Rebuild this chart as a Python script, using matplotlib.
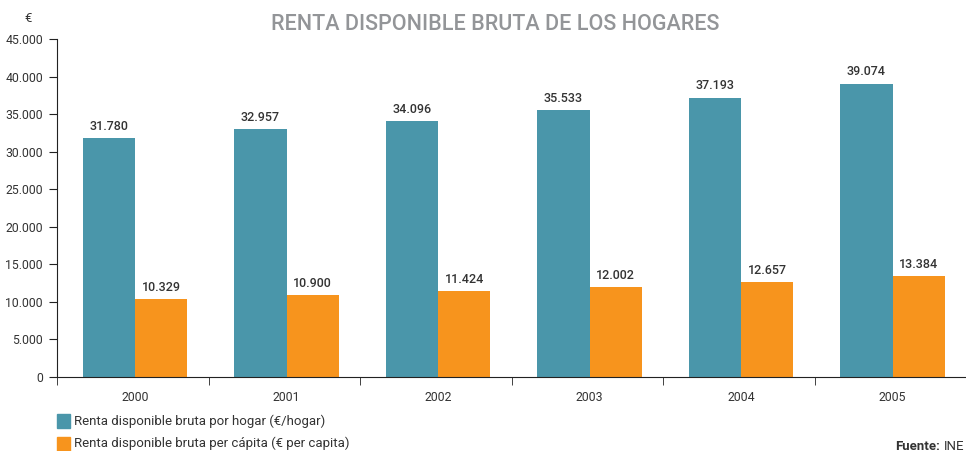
import numpy as np
import matplotlib
matplotlib.use('Agg')
import matplotlib.pyplot as plt
from matplotlib.patches import Rectangle

plt.rcParams['font.family'] = ['Roboto', 'DejaVu Sans']

# data
years = ['2000', '2001', '2002', '2003', '2004', '2005']
por_hogar = [31780, 32957, 34096, 35533, 37193, 39074]
per_capita = [10329, 10900, 11424, 12002, 12657, 13384]

yticks = [0, 5000, 10000, 15000, 20000, 25000, 30000, 35000, 40000, 45000]

BLUE = '#4a96aa'
ORANGE = '#f7941d'
TXT = '#333333'


def miles(v):
    # spanish thousands separator
    return '{:,}'.format(int(v)).replace(',', '.')


fig = plt.figure(figsize=(9.66, 4.51), dpi=100)
ax = fig.add_axes([57 / 966, 1 - 377 / 451, 1 - 57 / 966, (377 - 39) / 451])

x = np.arange(len(years))
w = 0.345
off = 0.015  # bars sit a touch right of the category centre

ax.bar(x + off - w / 2, por_hogar, w, color=BLUE)
ax.bar(x + off + w / 2, per_capita, w, color=ORANGE)

for xi, v in zip(x, por_hogar):
    ax.text(xi + off - w / 2, v + 700, miles(v), ha='center', va='bottom',
            fontsize=9, fontweight='medium', color=TXT)
for xi, v in zip(x, per_capita):
    ax.text(xi + off + w / 2, v + 700, miles(v), ha='center', va='bottom',
            fontsize=9, fontweight='medium', color=TXT)

ax.set_xlim(-0.5, 5.5)
ax.set_ylim(0, 45000)

ax.set_yticks(yticks)
ax.set_yticklabels([miles(t) for t in yticks])
ax.set_xticks(x + off)
ax.set_xticklabels(years)
ax.set_xticks(np.arange(-0.5, 5.5, 1), minor=True)
ax.tick_params(axis='x', which='major', length=0, pad=10, labelsize=8.8, labelcolor=TXT)
ax.tick_params(axis='x', which='minor', length=6, direction='out', color='#222222')
ax.tick_params(axis='y', length=6, labelsize=8.8, labelcolor=TXT, color='#222222', pad=4)

for s in ['top', 'right']:
    ax.spines[s].set_visible(False)
ax.spines['left'].set_color('#222222')
ax.spines['bottom'].set_color('#222222')

# titles and notes
fig.text(495 / 966, 1 - 25 / 451, 'RENTA DISPONIBLE BRUTA DE LOS HOGARES',
         ha='center', va='center', fontsize=15.5, fontweight='medium', color='#939598')
fig.text(28 / 966, 1 - 18 / 451, '€', ha='center', va='center', fontsize=9.5, color=TXT)

# legend drawn by hand below the axes
fig.patches.append(Rectangle((57 / 966, 1 - 428 / 451), 13 / 966, 14 / 451,
                             transform=fig.transFigure, color=BLUE))
fig.patches.append(Rectangle((57 / 966, 0.0), 13 / 966, 14 / 451,
                             transform=fig.transFigure, color=ORANGE))
fig.text(74 / 966, 1 - 421 / 451, 'Renta disponible bruta por hogar (€/hogar)',
         ha='left', va='center', fontsize=9.5, color=TXT)
fig.text(74 / 966, 1 - 443 / 451, 'Renta disponible bruta per cápita (€ per capita)',
         ha='left', va='center', fontsize=9.5, color=TXT)

# source note, kept just inside the right edge
fig.text(0.998, 1 - 446 / 451, 'INE', ha='right', va='center',
         fontsize=9.5, color=TXT)
fig.text(940 / 966, 1 - 446 / 451, 'Fuente:', ha='right', va='center',
         fontsize=9.5, fontweight='bold', color=TXT)

fig.savefig('out.png', dpi=100)
